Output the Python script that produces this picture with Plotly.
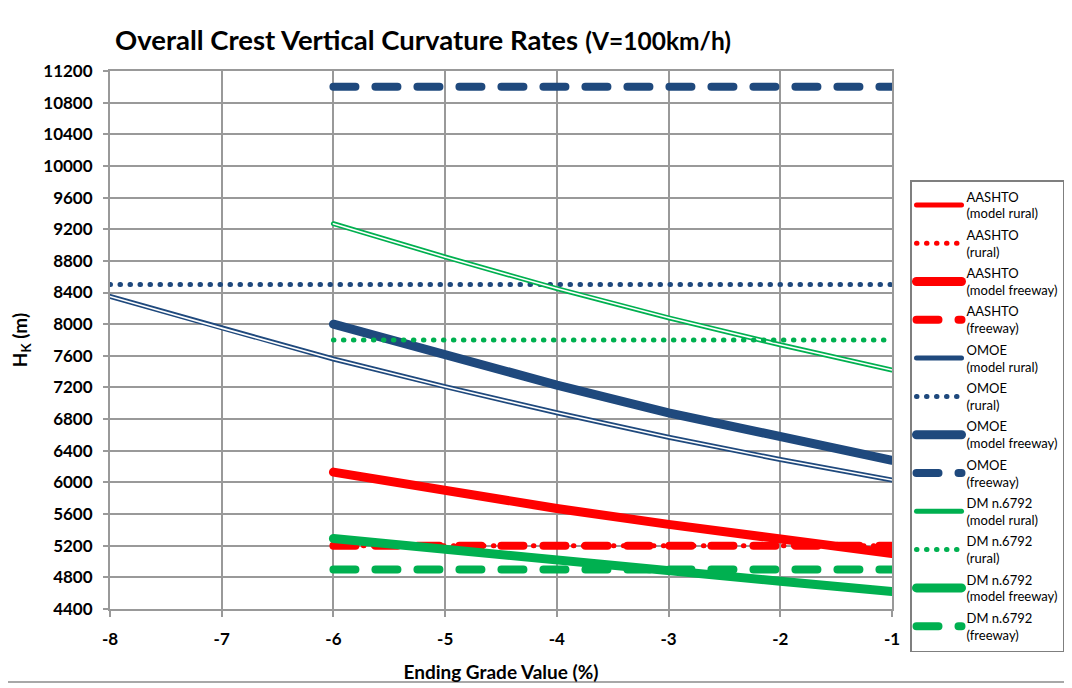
import plotly.graph_objects as go

# ---- data ----
x_full = [-8, -7, -6, -5, -4, -3, -2, -1]
x_part = [-6, -5, -4, -3, -2, -1]

aashto_model_rural = [6130, 5890, 5670, 5470, 5280, 5100]
aashto_rural = [5200, 5200, 5200, 5200, 5200, 5200]
aashto_model_freeway = [6130, 5890, 5670, 5470, 5280, 5100]
aashto_freeway = [5200, 5200, 5200, 5200, 5200, 5200]

omoe_model_rural = [8350, 7950, 7560, 7210, 6880, 6570, 6290, 6030]
omoe_rural = [8500, 8500, 8500, 8500, 8500, 8500, 8500, 8500]
omoe_model_freeway = [8000, 7610, 7230, 6880, 6570, 6280]
omoe_freeway = [11000, 11000, 11000, 11000, 11000, 11000]

dm_model_rural = [9270, 8850, 8450, 8080, 7740, 7420]
dm_rural = [7800, 7800, 7800, 7800, 7800, 7800]
dm_model_freeway = [5290, 5150, 5010, 4880, 4750, 4620]
dm_freeway = [4900, 4900, 4900, 4900, 4900, 4900]

x_tick_vals = [-8, -7, -6, -5, -4, -3, -2, -1]
x_tick_text = ["-8", "-7", "-6", "-5", "-4", "-3", "-2", "-1"]
y_tick_vals = [4400, 4800, 5200, 5600, 6000, 6400, 6800, 7200, 7600, 8000, 8400,
               8800, 9200, 9600, 10000, 10400, 10800, 11200]
y_tick_text = ["4400", "4800", "5200", "5600", "6000", "6400", "6800", "7200", "7600", "8000", "8400",
               "8800", "9200", "9600", "10000", "10400", "10800", "11200"]

names = [
    "AASHTO<br>(model rural)", "AASHTO<br>(rural)", "AASHTO<br>(model freeway)", "AASHTO<br>(freeway)",
    "OMOE<br>(model rural)", "OMOE<br>(rural)", "OMOE<br>(model freeway)", "OMOE<br>(freeway)",
    "DM n.6792<br>(model rural)", "DM n.6792<br>(rural)", "DM n.6792<br>(model freeway)", "DM n.6792<br>(freeway)",
]

RED = "#FF0000"
BLUE = "#1F497D"
GREEN = "#00B050"
FONT = "Lato"

series = [
    (x_part, aashto_model_rural, RED, "double"),
    (x_part, aashto_rural, RED, "dot"),
    (x_part, aashto_model_freeway, RED, "thick"),
    (x_part, aashto_freeway, RED, "dash"),
    (x_full, omoe_model_rural, BLUE, "double"),
    (x_full, omoe_rural, BLUE, "dot"),
    (x_part, omoe_model_freeway, BLUE, "thick"),
    (x_part, omoe_freeway, BLUE, "dash"),
    (x_part, dm_model_rural, GREEN, "double"),
    (x_part, dm_rural, GREEN, "dot"),
    (x_part, dm_model_freeway, GREEN, "thick"),
    (x_part, dm_freeway, GREEN, "dash"),
]

fig = go.Figure()
for i, ((xs, ys, col, kind), nm) in enumerate(zip(series, names)):
    grp = "g%02d" % i
    if kind == "double":
        fig.add_trace(go.Scatter(x=xs, y=ys, mode="lines", name=nm, legendgroup=grp,
                                 line=dict(color=col, width=5)))
        fig.add_trace(go.Scatter(x=xs, y=ys, mode="lines", showlegend=False, legendgroup=grp,
                                 hoverinfo="skip", line=dict(color="white", width=1.6)))
    elif kind == "dot":
        fig.add_trace(go.Scatter(x=xs, y=ys, mode="lines", name=nm, legendgroup=grp,
                                 line=dict(color=col, width=5, dash="0.5px,9.5px")))
    elif kind == "thick":
        fig.add_trace(go.Scatter(x=xs, y=ys, mode="lines", name=nm, legendgroup=grp,
                                 line=dict(color=col, width=9)))
    else:
        fig.add_trace(go.Scatter(x=xs, y=ys, mode="lines", name=nm, legendgroup=grp,
                                 line=dict(color=col, width=8, dash="22px,20px")))

GRID = "#999999"
axis_font = dict(family=FONT, size=17, color="#000000", weight="bold")

# the page body adds an 8px offset; the figure is sized to fill the rest of the window
W, H = 1064, 680
OFF = 8
L, T, PW, PH = 110 - OFF, 71 - OFF, 782, 538

fig.update_layout(
    width=W, height=H,
    margin=dict(l=L, r=W - L - PW, t=T, b=H - T - PH, autoexpand=False),
    paper_bgcolor="white", plot_bgcolor="white",
    font=dict(family=FONT, color="#000000"),
    title=dict(
        text="<b>Overall Crest Vertical Curvature Rates</b> <b><span style='font-size:24.5px'>(V=100km/h)</span></b>",
        font=dict(family=FONT, size=27.5, color="#000000"),
        x=(115 - OFF) / W, xref="container", xanchor="left",
        y=1 - (40 - OFF) / H, yref="container", yanchor="middle",
    ),
    xaxis=dict(
        range=[-8, -1], tickmode="array", tickvals=x_tick_vals, ticktext=x_tick_text,
        showgrid=True, gridcolor=GRID, gridwidth=2,
        showline=True, linecolor=GRID, linewidth=2, mirror=True,
        ticks="outside", ticklen=6, tickwidth=2, tickcolor=GRID,
        tickfont=axis_font, zeroline=False, ticklabelstandoff=8, automargin=False,
        title=dict(text="<b>Ending Grade Value (%)</b>", font=dict(family=FONT, size=19, color="#000000"), standoff=17),
    ),
    yaxis=dict(
        range=[4400, 11200], tickmode="array", tickvals=y_tick_vals, ticktext=y_tick_text,
        showgrid=True, gridcolor=GRID, gridwidth=2,
        showline=True, linecolor=GRID, linewidth=2, mirror=True,
        ticks="outside", ticklen=5, tickwidth=2, tickcolor=GRID,
        tickfont=axis_font, zeroline=False, ticklabelstandoff=7, automargin=False,
        title=dict(text="<b>H<sub>K</sub> (m)</b>", font=dict(family=FONT, size=19, color="#000000"), standoff=12),
    ),
    legend=dict(
        x=(910 - 110) / PW, y=(609 - 180) / PH, xanchor="left", yanchor="top",
        bordercolor="#7f7f7f", borderwidth=1.5, bgcolor="white",
        font=dict(family=FONT, size=13, color="#000000"),
        itemwidth=45, tracegroupgap=1.5, traceorder="grouped",
    ),
    showlegend=True,
)

# outer chart border
fig.add_shape(type="rect", xref="paper", yref="paper",
              x0=(6 - 110) / PW, x1=(1068 - 110) / PW,
              y0=(609 - 682) / PH, y1=(609 - 4) / PH,
              line=dict(color="#8c8c8c", width=1.5), fillcolor="rgba(0,0,0,0)", layer="below")

post = """
var gd = document.getElementById('{plot_id}');
gd.querySelectorAll('.scatterlayer .js-line, .legend .js-line').forEach(function(p){
  p.style.strokeLinecap = 'round';
});
"""

fig.write_html("out.html", post_script=post)
